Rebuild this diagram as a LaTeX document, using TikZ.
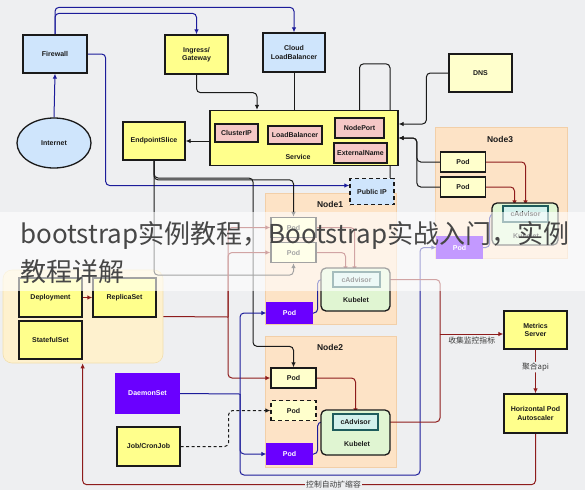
\documentclass[tikz,border=0pt]{standalone}
\usepackage{fontspec}
\setmainfont{Liberation Sans}
\newfontfamily\cjk{Noto Sans CJK SC}
\usetikzlibrary{arrows.meta,shapes.geometric}

\definecolor{bg}{HTML}{EEEFF1}
\definecolor{skyfill}{HTML}{CFE5FC}
\definecolor{yelfill}{HTML}{FFFF8C}
\definecolor{palefill}{HTML}{FFFFCC}
\definecolor{pinkfill}{HTML}{F5C8C6}
\definecolor{peach}{HTML}{FDE3C6}
\definecolor{peachline}{HTML}{F2CFA8}
\definecolor{cream}{HTML}{FEF1CE}
\definecolor{creamline}{HTML}{F2DFAE}
\definecolor{kubfill}{HTML}{E0F5D2}
\definecolor{cadfill}{HTML}{D3F1EC}
\definecolor{cadline}{HTML}{1E5C5C}
\definecolor{violet}{HTML}{6A00FF}
\definecolor{navy}{HTML}{1C1C9A}
\definecolor{wine}{HTML}{8E1C1C}
\definecolor{ink}{HTML}{1A1A1A}

\pgfdeclarelayer{back}
\pgfdeclarelayer{wires}
\pgfsetlayers{back,wires,main}

\tikzset{box/.style={draw=ink, line width=1.3pt, align=center, inner sep=1pt,
    font=\bfseries\fontsize{7}{8.2}\selectfont, text=ink}}
\tikzset{sky-box/.style={box, fill=skyfill}}
\tikzset{yel-box/.style={box, fill=yelfill}}
\tikzset{pink-box/.style={box, fill=pinkfill, line width=1.1pt}}
\tikzset{pod/.style={box, fill=palefill, minimum width=45pt, minimum height=20pt}}
\tikzset{pod-purple/.style={box, draw=violet, fill=violet, text=white, minimum width=45pt, minimum height=20pt}}
\tikzset{worker/.style={draw=peachline, fill=peach, line width=0.6pt, minimum width=131pt, minimum height=131pt}}
\tikzset{kubelet/.style={draw=ink, fill=kubfill, line width=1.3pt, rounded corners=5pt}}
\tikzset{cadvisor/.style={box, draw=cadline, fill=cadfill, line width=1.1pt}}
\tikzset{title/.style={font=\bfseries\fontsize{8.5}{10}\selectfont, text=ink}}
\tikzset{tag/.style={font=\bfseries\fontsize{7}{8.2}\selectfont, text=ink}}
\tikzset{note/.style={font=\cjk\fontsize{7.8}{9}\selectfont, text=ink!85, fill=bg, inner sep=1pt}}
\tikzset{arrow/.style={->, >={Latex[length=5pt,width=4.5pt]}, line width=1pt, rounded corners=4pt}}
\tikzset{black-arrow/.style={arrow, draw=ink}}
\tikzset{blue-arrow/.style={arrow, draw=navy}}
\tikzset{red-arrow/.style={arrow, draw=wine}}
\tikzset{dashed-arrow/.style={arrow, draw=ink, dash pattern=on 3pt off 2.5pt}}
\tikzset{blue-line/.style={draw=navy, line width=1pt, rounded corners=4pt}}
\tikzset{red-line/.style={draw=wine, line width=1pt, rounded corners=4pt}}

\begin{document}
\begin{tikzpicture}[x=1pt, y=-1pt]
  \useasboundingbox (0,0) rectangle (585,490);

  \begin{pgfonlayer}{back}
    \fill[bg] (0,0) rectangle (585,490);
    \node[draw=creamline, fill=cream, line width=0.6pt, rounded corners=9pt,
      minimum width=160pt, minimum height=93pt] (grp) at (83,316.5) {};
    \node[worker] (node1) at (330.5,258.5) {};
    \node[worker] (node2) at (330.5,401.5) {};
    \node[worker, minimum width=132pt] (node3) at (501,192.5) {};
    \node[title] (node1t) at (330,204) {Node1};
    \node[title] (node2t) at (330,347) {Node2};
    \node[title] (node3t) at (500,139) {Node3};
  \end{pgfonlayer}

  % entry side
  \node[sky-box, minimum width=64pt, minimum height=38pt] (fw) at (55,54) {Firewall};
  \node[sky-box, ellipse, minimum width=74pt, minimum height=50pt] (inet) at (54,143) {Internet};
  \node[yel-box, minimum width=63pt, minimum height=39pt] (ingress) at (196.5,54.5) {Ingress/\\Gateway};
  \node[sky-box, minimum width=62pt, minimum height=39pt] (cloudlb) at (294,52.5) {Cloud\\LoadBalancer};
  \node[box, fill=palefill, minimum width=63pt, minimum height=38pt] (dns) at (480.5,73) {DNS};
  \node[yel-box, minimum width=62pt, minimum height=38pt] (eps) at (154,141) {EndpointSlice};
  \node[sky-box, dash pattern=on 4pt off 3pt, minimum width=44pt, minimum height=26pt] (pip) at (372,191.5) {Public IP};

  % service
  \node[yel-box, minimum width=188pt, minimum height=55pt] (svc) at (304,138) {};
  \node[tag] (svct) at (298,157) {Service};
  \node[pink-box, minimum width=43pt, minimum height=18pt] (cip) at (236.5,133) {ClusterIP};
  \node[pink-box, minimum width=54pt, minimum height=18pt] (lb) at (295,135) {LoadBalancer};
  \node[pink-box, minimum width=49pt, minimum height=20pt] (np) at (359.5,128) {NodePort};
  \node[pink-box, minimum width=53pt, minimum height=20pt] (en) at (360.5,153) {ExternalName};

  % workloads
  \node[yel-box, minimum width=63pt, minimum height=39pt] (dep) at (50.5,297.5) {Deployment};
  \node[yel-box, minimum width=63pt, minimum height=39pt] (rs) at (124.5,297.5) {ReplicaSet};
  \node[yel-box, minimum width=63pt, minimum height=38pt] (sts) at (50.5,340) {StatefulSet};
  \node[box, draw=violet, fill=violet, text=white, minimum width=63pt, minimum height=39pt] (ds) at (147.5,393.5) {DaemonSet};
  \node[yel-box, minimum width=63pt, minimum height=39pt] (job) at (148.5,446.5) {Job/CronJob};

  % Node1
  \node[pod] (n1pa) at (293.5,227.5) {Pod};
  \node[pod] (n1pb) at (293.5,252.5) {Pod};
  \node[pod-purple] (n1pp) at (289.5,313) {Pod};
  \node[kubelet, minimum width=69pt, minimum height=43pt] (n1kub) at (355.5,289.5) {};
  \node[cadvisor, minimum width=47pt, minimum height=15pt] (n1cad) at (356.5,279.5) {cAdvisor};
  \node[tag] (n1kubt) at (356,300) {Kubelet};

  % Node2
  \node[pod] (n2p) at (293.5,378) {Pod};
  \node[pod, dash pattern=on 4pt off 3pt] (n2pd) at (293.5,410.5) {Pod};
  \node[pod-purple] (n2pp) at (289.5,454) {Pod};
  \node[kubelet, minimum width=69pt, minimum height=45pt] (n2kub) at (355.5,432.5) {};
  \node[cadvisor, minimum width=45pt, minimum height=16pt] (n2cad) at (355.5,422) {cAdvisor};
  \node[tag] (n2kubt) at (357,444) {Kubelet};

  % Node3
  \node[pod] (n3p1) at (463,162) {Pod};
  \node[pod] (n3p2) at (463,187) {Pod};
  \node[pod-purple, minimum height=21pt] (n3pp) at (459.5,247.5) {Pod};
  \node[kubelet, minimum width=66pt, minimum height=42pt] (n3kub) at (525,224) {};
  \node[cadvisor, minimum width=45pt, minimum height=16pt] (n3cad) at (525.5,214) {cAdvisor};
  \node[tag] (n3kubt) at (526,236) {Kubelet};

  % metrics
  \node[yel-box, minimum width=63pt, minimum height=38pt] (ms) at (535.5,330) {Metrics\\Server};
  \node[yel-box, minimum width=63pt, minimum height=39pt] (hpa) at (535.5,413.5) {Horizontal Pod\\Autoscaler};

  \coordinate (rsfork) at (228,317);
  \coordinate (dsfork) at (240,394);
  \coordinate (msfork) at (440,334);

  \begin{pgfonlayer}{wires}
    % traffic in
    \draw[blue-arrow] (inet.north) -- (fw.south);
    \draw[blue-arrow] (fw.north) -- ++(0,-21) -| (ingress.north);
    \draw[blue-arrow] (fw.north) -- ++(0,-27) -| (cloudlb.north);
    \draw[blue-arrow] (fw.east) -- ++(18,0) |- ([yshift=6pt]pip.west);
    \draw[black-arrow] (ingress.south) -- ++(0,18) -| ([xshift=-47pt]svc.north);
    \draw[black-arrow] (cloudlb.south) -- (cloudlb.south |- lb.north);
    \draw[black-arrow] ([xshift=18pt]pip.north) -- ++(0,-114) -| (np.north);
    \draw[black-arrow] (dns.west) -- ++(-22,0) |- ([yshift=14pt]svc.east);
    \draw[black-arrow] (n3p1.west) -- ++(-23,0) |- (svc.east);
    \draw[black-arrow] (n3p2.west) -- ++(-23,0) |- (svc.east);
    \draw[black-arrow] (svc.west |- eps.east) -- (eps.east);

    % endpoints to pods
    \draw[black-arrow] (eps.south) |- ([yshift=37pt]n1pa.north) -- (n1pa.north);
    \draw[black-arrow] (eps.south) |- ([yshift=-12pt]n1pb.south) -- (n1pb.south);
    \draw[black-arrow] (eps.south) |- (253,178) |- ([yshift=21pt]n2p.north) -- (n2p.north);

    % controllers
    \draw[red-arrow] (dep.east |- rs.west) -- (rs.west);
    \draw[red-line] (grp.east) -- (rsfork);
    \draw[red-arrow] (rsfork) |- (n1pa.west);
    \draw[red-arrow] (rsfork) |- (n1pb.west);
    \draw[red-arrow] (rsfork) |- (n2p.west);
    \draw[blue-line] (ds.east) -- (dsfork);
    \draw[blue-arrow] (dsfork) |- (n1pp.west);
    \draw[blue-arrow] (dsfork) |- (n2pp.west);
    \draw[blue-arrow] (dsfork) |- (420,475) |- (n3pp.west);
    \draw[dashed-arrow] (job.east) -- ++(48,0) |- (n2pd.west);

    % pods to cAdvisor
    \draw[red-arrow] (n1pa.east) -| ([xshift=-2pt]n1cad.north);
    \draw[red-arrow] (n1pb.east) -| ([xshift=-11pt]n1cad.north);
    \draw[red-arrow] (n2p.east) -| (n2cad.north);
    \draw[red-arrow] (n3p1.east) -| (n3cad.north);
    \draw[red-arrow] (n3p2.east) -| ([xshift=-11pt]n3cad.north);
    \draw[blue-arrow] (n1pp.east) -- ++(5,0) |- (n1cad.west);
    \draw[blue-arrow] (n2pp.east) -- ++(5,0) |- (n2cad.west);
    \draw[blue-arrow] (n3pp.east) -- ++(7,0) |- (n3cad.west);

    % metrics loop
    \draw[red-line] (n1cad.east) -| (msfork);
    \draw[red-line] (n2cad.east) -| (msfork);
    \draw[red-arrow] (msfork) -- node[note, below=1pt, fill=none] (collect) {收集监控指标} (ms.west |- msfork);
    \draw[red-arrow] (ms.south) -- node[note, pos=0.4] (aggr) {聚合api} (hpa.north);
    \draw[red-arrow] (hpa.south) -- ++(0,51) -| node[note, pos=0.223] (scale) {控制自动扩缩容} (grp.south -| sts.east);
  \end{pgfonlayer}

  % page watermark band
  \fill[white, fill opacity=0.6] (0,212) rectangle (585,291);
  \node[anchor=base west, inner sep=0pt, text=black!72, font=\cjk\fontsize{26}{30}\selectfont]
    (wm1) at (20,243) {bootstrap实例教程，Bootstrap实战入门，实例};
  \node[anchor=base west, inner sep=0pt, text=black!72, font=\cjk\fontsize{26}{30}\selectfont]
    (wm2) at (20,281) {教程详解};
\end{tikzpicture}
\end{document}
